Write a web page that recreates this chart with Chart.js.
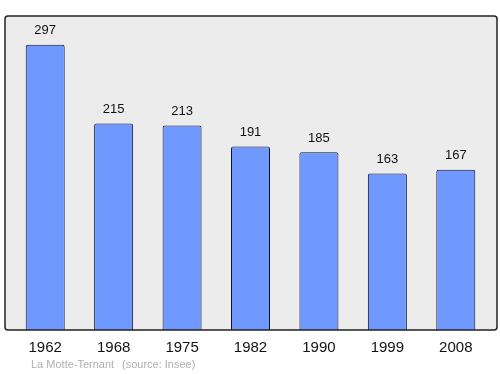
<!DOCTYPE html>
<html>
<head>
<meta charset="utf-8">
<script src="https://cdn.jsdelivr.net/npm/chart.js@4"></script>
<style>
  html, body { margin: 0; padding: 0; background: #fff; }
  #wrap { width: 500px; height: 374px; }
</style>
</head>
<body>
<div id="wrap"><canvas id="pop"></canvas></div>
<script>
const years = ["1962", "1968", "1975", "1982", "1990", "1999", "2008"];
const population = [297, 215, 213, 191, 185, 163, 167];
const placeName = "La Motte-Ternant";
const sourceText = "(source: Insee)";

// frame, bar values, year labels and footer are drawn around the bars
const decor = {
    id: 'decor',
    beforeDraw(chart) {
        const { ctx, chartArea: { top, bottom, left, right } } = chart;
        ctx.save();
        ctx.beginPath();
        ctx.roundRect(left - 6, top, right - left + 13, bottom - top, 3);
        ctx.fillStyle = '#ececec';
        ctx.fill();
        ctx.restore();
    },
    afterDraw(chart) {
        const { ctx, chartArea: { top, bottom, left, right }, scales: { x, y } } = chart;
        ctx.save();
        ctx.beginPath();
        ctx.roundRect(left - 6, top, right - left + 13, bottom - top, 3);
        ctx.lineWidth = 1.5;
        ctx.strokeStyle = '#222';
        ctx.stroke();

        ctx.fillStyle = '#111';
        ctx.textAlign = 'center';
        ctx.textBaseline = 'middle';
        ctx.font = '13px "Liberation Sans", Arial, sans-serif';
        population.forEach((v, i) => {
            ctx.fillText(String(v), x.getPixelForValue(i), y.getPixelForValue(v) - 14);
        });

        ctx.font = '15px "Liberation Sans", Arial, sans-serif';
        years.forEach((yr, i) => {
            ctx.fillText(yr, x.getPixelForValue(i), bottom + 18);
        });

        ctx.fillStyle = '#b0b0b0';
        ctx.textAlign = 'left';
        ctx.font = '11px "Liberation Sans", Arial, sans-serif';
        ctx.fillText(placeName, 31, bottom + 35);
        ctx.fillText(sourceText, 122, bottom + 35);
        ctx.restore();
    }
};

new Chart(document.getElementById('pop'), {
    type: 'bar',
    data: {
        labels: years,
        datasets: [{
            data: population,
            backgroundColor: '#7099ff',
            borderColor: '#101030',
            borderWidth: 1,
            borderRadius: 2,
            borderSkipped: 'bottom',
            barPercentage: 0.57,
            categoryPercentage: 1
        }]
    },
    options: {
        responsive: true,
        maintainAspectRatio: false,
        animation: false,
        layout: { padding: { left: 11, right: 10, top: 16, bottom: 44 } },
        scales: {
            x: { display: false },
            y: { display: false, min: 0, max: 327 }
        },
        plugins: {
            legend: { display: false },
            tooltip: { enabled: false }
        }
    },
    plugins: [decor]
});
</script>
</body>
</html>
